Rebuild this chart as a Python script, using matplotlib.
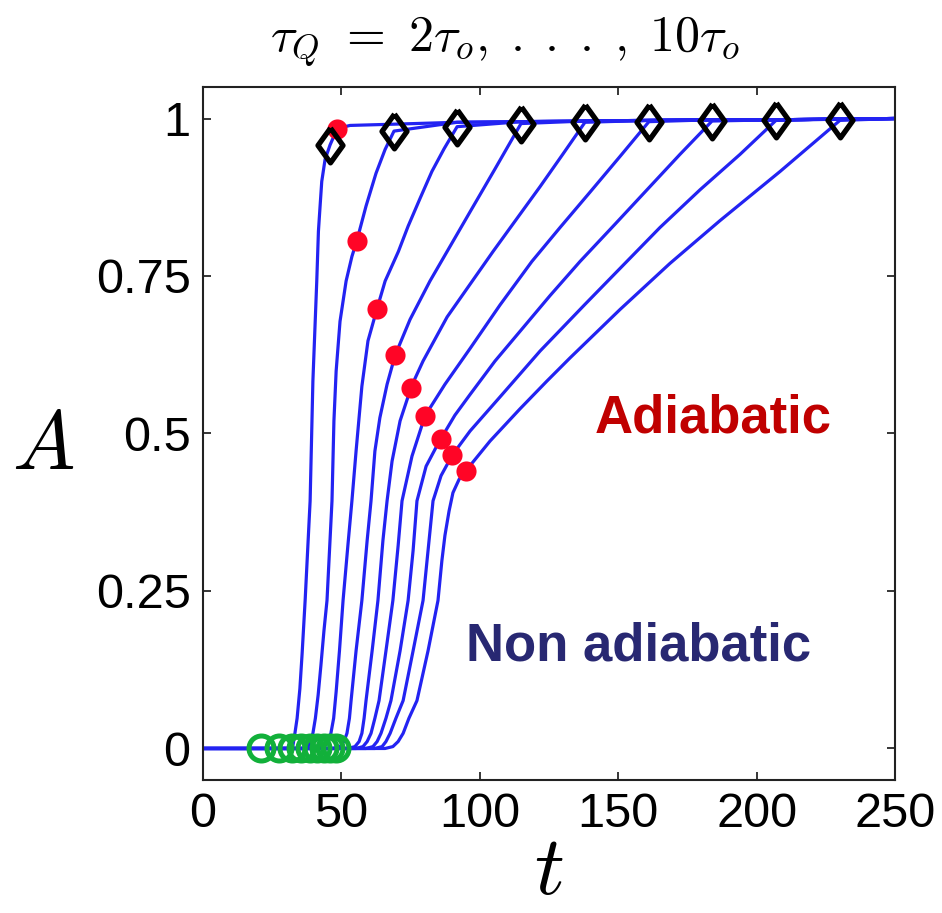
import numpy as np
import matplotlib.pyplot as plt

plt.rcParams['mathtext.fontset'] = 'cm'
plt.rcParams['font.family'] = ['Liberation Sans', 'DejaVu Sans']

tau_q = [2, 3, 4, 5, 6, 7, 8, 9, 10]

# A(t) for each quench time, from the onset up to the end of the ramp
curve_t = [
    [31.4, 32.5, 33.2, 34.0, 35.0, 35.8, 36.9, 37.8, 38.7, 39.7, 41.1, 41.7, 42.3, 42.9, 44.1],
    [36.5, 38.3, 39.7, 40.6, 41.6, 42.6, 43.7, 44.8, 45.7, 46.6, 47.3, 48.1, 49.5, 51.7, 53.8,
     56.0, 58.9, 62.5, 65.8],
    [41.6, 43.7, 45.2, 46.2, 47.2, 48.1, 49.3, 50.6, 52.4, 53.8, 55.3, 57.4, 59.6, 62.8, 65.8,
     70.6, 74.1, 78.4, 82.7, 87.1],
    [47.0, 49.5, 50.9, 52.0, 52.9, 53.5, 55.3, 57.4, 59.3, 60.7, 62.1, 63.9, 66.5, 69.4, 74.8,
     82.0, 88.2, 96.5, 105.5],
    [52.4, 54.9, 56.4, 57.4, 58.2, 58.9, 61.1, 63.2, 65.0, 66.5, 68.3, 71.2, 75.1, 79.5, 88.2,
     96.5, 104.8, 110.9, 121.8, 130.1],
    [55.3, 57.8, 59.3, 60.7, 62.1, 63.6, 66.1, 68.6, 70.5, 71.9, 75.5, 80.2, 87.4, 96.5, 107.3,
     118.8, 129.0, 139.8, 150.7],
    [58.9, 61.4, 62.9, 64.3, 66.1, 67.9, 71.2, 74.1, 75.9, 77.3, 80.6, 86.0, 91.0, 96.5, 105.5,
     114.5, 125.4, 136.2, 148.8, 161.5, 172.3],
    [62.1, 64.7, 66.1, 67.6, 69.7, 72.3, 75.9, 79.5, 81.3, 83.1, 86.0, 90.1, 96.5, 107.3, 121.8,
     138.0, 153.1, 165.1, 179.6, 194.0],
    [65.8, 68.6, 70.5, 72.3, 74.4, 77.3, 81.3, 84.9, 86.3, 87.4, 88.9, 90.3, 92.5, 95.0, 103.7,
     114.5, 124.2, 132.6, 150.7, 168.7, 186.8, 208.5],
]
curve_a = [
    [0, .005, .024, .048, .095, .150, .235, .314, .393, .583, .742, .821, .861, .900, .935],
    [0, .005, .024, .048, .085, .132, .187, .235, .314, .393, .520, .599, .678, .742, .781,
     .813, .861, .913, .951],
    [0, .003, .011, .024, .048, .090, .155, .235, .325, .393, .472, .575, .647, .697, .742,
     .789, .829, .873, .916, .952],
    [0, .003, .011, .024, .048, .076, .155, .235, .330, .393, .472, .525, .578, .624, .681,
     .742, .789, .852, .920],
    [0, .003, .011, .024, .048, .076, .155, .235, .330, .393, .456, .520, .572, .615, .685,
     .737, .789, .826, .892, .944],
    [0, .003, .011, .024, .048, .076, .155, .235, .322, .393, .464, .528, .578, .635, .704,
     .773, .827, .883, .940],
    [0, .003, .011, .024, .048, .076, .155, .235, .314, .393, .448, .493, .529, .562, .615,
     .662, .719, .773, .832, .892, .943],
    [0, .003, .011, .024, .048, .076, .155, .235, .314, .393, .433, .466, .504, .558, .631,
     .705, .773, .827, .887, .943],
    [0, .003, .011, .024, .048, .076, .155, .235, .298, .338, .377, .406, .427, .441, .488,
     .539, .583, .620, .697, .770, .838, .916],
]

# end of the ramp (diamonds)
t_end = [45.9, 69.0, 91.8, 114.9, 138.0, 161.1, 183.9, 207.0, 230.1]
a_end = [0.958, 0.980, 0.987, 0.992, 0.994, 0.995, 0.996, 0.997, 0.997]

# adiabatic crossover (red dots)
t_red = [48.5, 55.5, 62.8, 69.4, 75.1, 80.2, 86.0, 90.1, 94.9]
a_red = [0.984, 0.805, 0.697, 0.624, 0.573, 0.528, 0.492, 0.466, 0.441]

# start of the ramp (green circles)
t_start = [21.1, 27.5, 32.0, 35.5, 38.5, 41.2, 43.6, 45.9, 48.0]
a_start = [0, 0, 0, 0, 0, 0, 0, 0, 0]

# relaxation towards A = 1 after the ramp
tail_t = [53.1, 69.0, 91.8, 114.9, 138.0, 161.1, 183.9, 207.0, 230.1, 250.0]
tail_a = [0.989, 0.991, 0.994, 0.995, 0.996, 0.997, 0.998, 0.998, 0.999, 1.0]

x_ticks = [0, 50, 100, 150, 200, 250]
y_ticks = [0, 0.25, 0.5, 0.75, 1]
y_tick_labels = ['0', '0.25', '0.5', '0.75', '1']

blue = '#2323f2'
diamond = [(0, 1), (0.72, 0), (0, -1), (-0.72, 0), (0, 1)]

fig = plt.figure(figsize=(9.42, 9.13), dpi=100)
ax = fig.add_axes([0.2155, 0.1457, 0.7346, 0.759])

tail_t = np.array(tail_t)
tail_a = np.array(tail_a)
for k in range(len(tau_q)):
    after = tail_t > t_end[k] + 1
    t = np.concatenate([[0], curve_t[k], [t_red[k], t_end[k]], tail_t[after]])
    a = np.concatenate([[0], curve_a[k], [a_red[k], a_end[k]], tail_a[after]])
    order = np.argsort(t, kind='stable')
    ax.plot(t[order], a[order], color=blue, lw=2.3, zorder=2)

ax.plot(t_start, a_start, 'o', ms=18, mfc='none', mec='#12b03a', mew=3.6, zorder=3)
ax.plot(t_red, a_red, 'o', ms=14.5, color='#ff0526', mec='none', zorder=4)
ax.plot(t_end, a_end, ls='none', marker=diamond, ms=25, mfc='none', mec='black',
        mew=3.8, zorder=5)

ax.text(184.2, 0.501, 'Adiabatic', color='#c00000', fontsize=38, fontweight='bold',
        ha='center', va='baseline')
ax.text(157.5, 0.139, 'Non adiabatic', color='#282872', fontsize=38, fontweight='bold',
        ha='center', va='baseline')

ax.set_xlim(0, 250)
ax.set_ylim(-0.05, 1.05)
ax.set_xticks(x_ticks)
ax.set_yticks(y_ticks)
ax.set_yticklabels(y_tick_labels)
ax.tick_params(direction='in', top=True, right=True, length=6, width=1.1,
               labelsize=35, pad=9)
for s in ax.spines.values():
    s.set_linewidth(1.5)
    s.set_color('#222222')

fig.text(0.536, 0.954, r'$\tau_Q\ =\ 2\tau_o,\;.\;.\;.\;,\;10\tau_o$', fontsize=36,
         ha='center', va='center')
fig.text(0.0456, 0.510, r'$A$', fontsize=60, ha='center', va='center')
fig.text(0.582, 0.045, r'$t$', fontsize=60, ha='center', va='center')

fig.savefig('out.png', dpi=100)
